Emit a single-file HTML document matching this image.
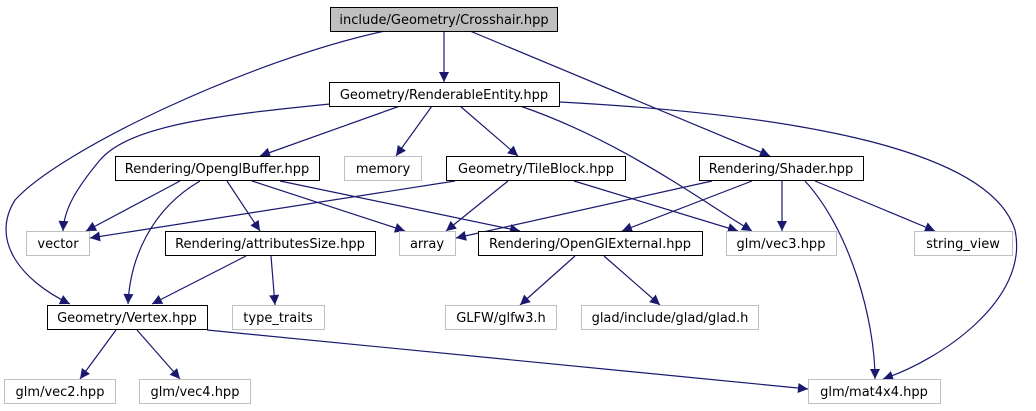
<!DOCTYPE html>
<html><head><meta charset="utf-8"><style>
html,body{margin:0;padding:0;background:#fff;}
svg{display:block;}
text{font-family:"DejaVu Sans","Liberation Sans",sans-serif;font-size:13px;fill:#000;}
</style></head><body>
<svg width="1036" height="411" viewBox="0 0 1036 411" xmlns="http://www.w3.org/2000/svg">
<defs><marker id="a" viewBox="0 0 10 10" refX="10" refY="5" markerWidth="12" markerHeight="10" markerUnits="userSpaceOnUse" orient="auto"><path d="M0,0 L10,5 L0,10 z" fill="#191970"/></marker></defs>
<g fill="none" stroke="#191970" stroke-width="1.2" marker-end="url(#a)">
<path d="M444,31 L444,82"/>
<path d="M385,31 C250,60 60,150 15,200 C-10,240 20,280 70,304"/>
<path d="M470,31 L770,156"/>
<path d="M330,104 C220,115 130,125 100,160 C75,190 64,210 63,231"/>
<path d="M400,106 L260,156"/>
<path d="M432,106 L396,156"/>
<path d="M460,106 L518,156"/>
<path d="M520,106 C620,140 700,200 752,231"/>
<path d="M560,102 C800,115 990,150 1015,230 C1030,300 940,360 883,379"/>
<path d="M180,181 L86,231"/>
<path d="M200,181 C150,210 130,260 128,304"/>
<path d="M227,181 L260,231"/>
<path d="M252,181 L405,231"/>
<path d="M280,181 L520,231"/>
<path d="M455,181 L90,238"/>
<path d="M508,181 L446,231"/>
<path d="M574,181 L738,231"/>
<path d="M712,181 L456,238"/>
<path d="M752,181 L622,231"/>
<path d="M782,181 L782,231"/>
<path d="M805,181 C850,230 875,320 875,379"/>
<path d="M815,181 L935,231"/>
<path d="M246,256 L152,304"/>
<path d="M271,256 L275,305"/>
<path d="M575,256 L520,305"/>
<path d="M604,256 L660,305"/>
<path d="M116,330 L80,379"/>
<path d="M137,330 L180,379"/>
<path d="M207,330 L808,389"/>
</g>
<g stroke-width="1" shape-rendering="crispEdges">
<rect x="330.5" y="7.5" width="227" height="24" fill="#bfbfbf" stroke="#000"/>
<rect x="329.5" y="82.5" width="230" height="24" fill="#fff" stroke="#000"/>
<rect x="115.5" y="156.5" width="204" height="24" fill="#fff" stroke="#000"/>
<rect x="344.5" y="156.5" width="77" height="24" fill="#fff" stroke="#bfbfbf"/>
<rect x="446.5" y="156.5" width="179" height="24" fill="#fff" stroke="#000"/>
<rect x="699.5" y="156.5" width="164" height="24" fill="#fff" stroke="#000"/>
<rect x="26.5" y="231.5" width="63" height="24" fill="#fff" stroke="#bfbfbf"/>
<rect x="165.5" y="231.5" width="210" height="24" fill="#fff" stroke="#000"/>
<rect x="399.5" y="231.5" width="56" height="24" fill="#fff" stroke="#bfbfbf"/>
<rect x="478.5" y="231.5" width="224" height="24" fill="#fff" stroke="#000"/>
<rect x="726.5" y="231.5" width="110" height="24" fill="#fff" stroke="#bfbfbf"/>
<rect x="914.5" y="231.5" width="98" height="24" fill="#fff" stroke="#bfbfbf"/>
<rect x="47.5" y="305.5" width="160" height="24" fill="#fff" stroke="#000"/>
<rect x="232.5" y="305.5" width="92" height="24" fill="#fff" stroke="#bfbfbf"/>
<rect x="445.5" y="305.5" width="111" height="24" fill="#fff" stroke="#bfbfbf"/>
<rect x="581.5" y="305.5" width="177" height="24" fill="#fff" stroke="#bfbfbf"/>
<rect x="4.5" y="379.5" width="111" height="24" fill="#fff" stroke="#bfbfbf"/>
<rect x="139.5" y="379.5" width="111" height="24" fill="#fff" stroke="#bfbfbf"/>
<rect x="808.5" y="379.5" width="132" height="24" fill="#fff" stroke="#bfbfbf"/>
</g>
<g text-anchor="middle">
<text x="444" y="24">include/Geometry/Crosshair.hpp</text>
<text x="444" y="99">Geometry/RenderableEntity.hpp</text>
<text x="217" y="173">Rendering/OpenglBuffer.hpp</text>
<text x="383" y="173">memory</text>
<text x="536" y="173">Geometry/TileBlock.hpp</text>
<text x="781" y="173">Rendering/Shader.hpp</text>
<text x="58" y="248">vector</text>
<text x="270" y="248">Rendering/attributesSize.hpp</text>
<text x="427" y="248">array</text>
<text x="590" y="248">Rendering/OpenGlExternal.hpp</text>
<text x="781" y="248">glm/vec3.hpp</text>
<text x="963" y="248">string_view</text>
<text x="127" y="322">Geometry/Vertex.hpp</text>
<text x="278" y="322">type_traits</text>
<text x="501" y="322">GLFW/glfw3.h</text>
<text x="670" y="322">glad/include/glad/glad.h</text>
<text x="60" y="396">glm/vec2.hpp</text>
<text x="195" y="396">glm/vec4.hpp</text>
<text x="874" y="396">glm/mat4x4.hpp</text>
</g>
</svg>
</body></html>
